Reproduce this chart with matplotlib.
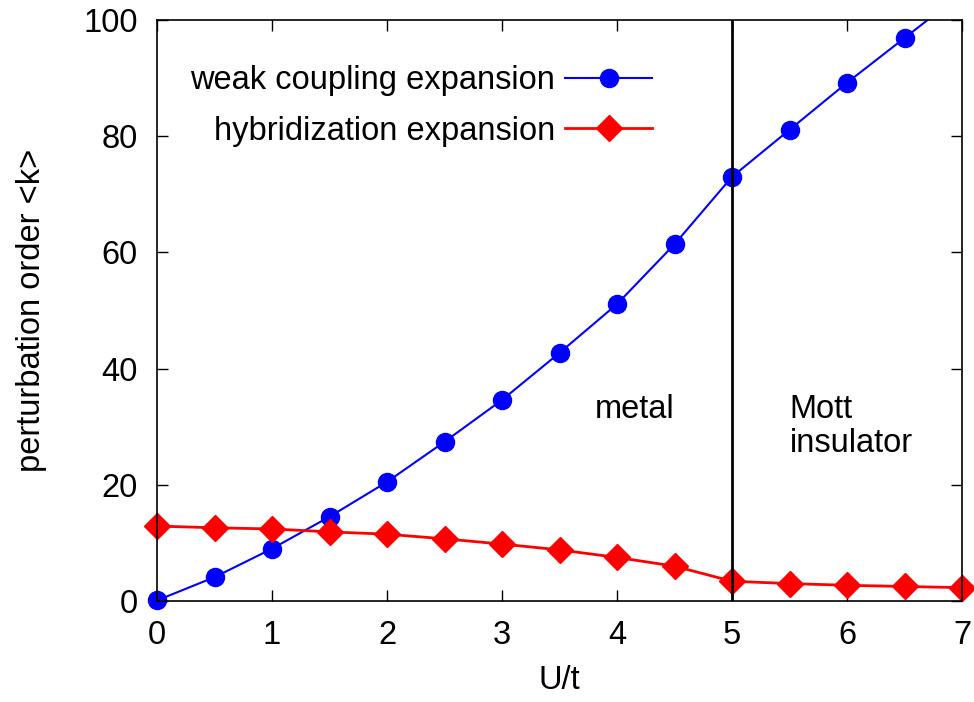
import numpy as np
import matplotlib
matplotlib.use("Agg")
import matplotlib.pyplot as plt

plt.rcParams['font.family'] = ['Liberation Sans', 'DejaVu Sans']

u = [0, 0.5, 1, 1.5, 2, 2.5, 3, 3.5, 4, 4.5, 5, 5.5, 6, 6.5, 7]
k_weak = [0.1, 4.1, 9.0, 14.5, 20.5, 27.4, 34.6, 42.7, 51.1, 61.4, 73.0, 81.1, 89.2, 96.9, 104.6]
k_hyb = [12.9, 12.6, 12.4, 11.9, 11.5, 10.7, 9.8, 8.8, 7.5, 6.0, 3.4, 3.0, 2.7, 2.5, 2.3]

fs = 23.5

fig = plt.figure(figsize=(9.74, 7.02), dpi=100)
ax = fig.add_axes([157/974, 1 - 601/702, (962-157)/974, (601-20)/702])

# points outside the y range are not drawn (gnuplot clipping)
inside = [i for i, v in enumerate(k_weak) if v <= 100]
ax.plot(u, k_weak, color='blue', lw=1.5)
ax.plot(u, k_weak, color='blue', lw=0, marker='o', ms=13, markevery=inside,
        clip_on=False)
ax.plot(u, k_hyb, color='red', lw=2, marker='D', ms=13.5, clip_on=False)
ax.axvline(5, color='black', lw=2)

# legend handles, gnuplot style
ax.plot([], [], color='blue', lw=1.5, marker='o', ms=13, label='weak coupling expansion')
ax.plot([], [], color='red', lw=2, marker='D', ms=13.5, label='hybridization expansion')

ax.set_xlim(0, 7)
ax.set_ylim(0, 100)
ax.set_xticks(range(0, 8))
ax.set_yticks(range(0, 101, 20))
ax.tick_params(direction='in', top=True, right=True, length=8, width=1,
               labelsize=fs, pad=14)
for s in ax.spines.values():
    s.set_linewidth(1.2)

ax.set_xlabel('U/t', fontsize=fs, labelpad=10)
ax.set_ylabel('perturbation order <k>', fontsize=fs, labelpad=26)

ax.text(4.15, 32.9, 'metal', fontsize=fs, ha='center', va='center')
ax.text(5.5, 30.0, 'Mott\ninsulator', fontsize=fs, ha='left', va='center',
        linespacing=1.1)

h, l = ax.get_legend_handles_labels()
leg = ax.legend(h[-2:], l[-2:], loc='upper right', bbox_to_anchor=(0.615, 0.922),
                frameon=False, markerfirst=False, fontsize=fs, handlelength=2.67,
                labelspacing=0.6, handletextpad=0.3, borderpad=0, borderaxespad=0)
for t in leg.get_texts():
    t.set_ha('right')

fig.savefig('out.png', dpi=100)
